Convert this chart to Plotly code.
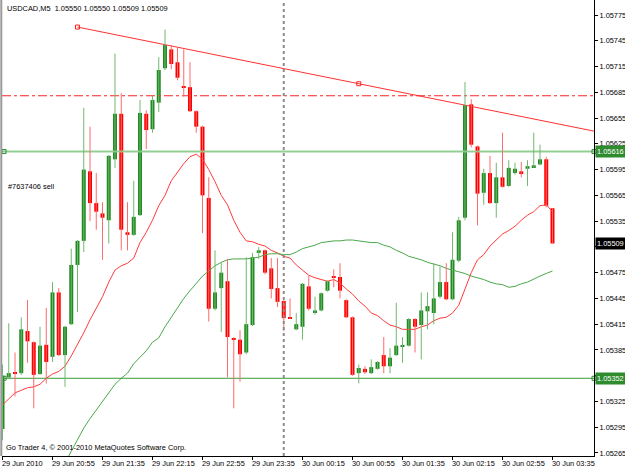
import plotly.graph_objects as go

# ---------------- data (USDCAD, M5) ----------------
opens = [1.05293,1.05353,1.05359,1.05358,1.05407,1.05394,1.05357,1.05391,1.05377,1.05452,
         1.05379,1.05415,1.05484,1.05512,1.05593,1.05556,1.05544,1.05536,1.05607,1.05660,
         1.05522,1.05519,1.05542,1.05660,1.05642,1.05673,1.05713,1.05735,1.05720,1.05692,
         1.05691,1.05663,1.05645,1.05562,1.05433,1.05457,1.05465,1.05398,1.05397,1.05382,
         1.05414,1.05498,1.05501,1.05480,1.05457,1.05442,1.05423,1.05409,1.05412,1.05459,
         1.05428,1.05431,1.05454,1.05471,1.05470,1.05443,1.05423,1.05358,1.05363,1.05358,
         1.05363,1.05379,1.05366,1.05379,1.05389,1.05390,1.05421,1.05414,1.05430,1.05428,
         1.05447,1.05464,1.05444,1.05489,1.05539,1.05671,1.05622,1.05568,1.05591,1.05556,
         1.05586,1.05576,1.05591,1.05593,1.05596,1.05598,1.05601,1.05607,1.05550]
highs = [1.05368,1.05416,1.05382,1.05423,1.05443,1.05395,1.05412,1.05434,1.05464,1.05457,
         1.05413,1.05503,1.05513,1.05667,1.05645,1.05591,1.05557,1.05612,1.05730,1.05684,
         1.05557,1.05582,1.05676,1.05664,1.05681,1.05726,1.05758,1.05740,1.05737,1.05735,
         1.05720,1.05664,1.05646,1.05586,1.05501,1.05487,1.05491,1.05400,1.05408,1.05493,
         1.05498,1.05505,1.05502,1.05492,1.05492,1.05443,1.05445,1.05428,1.05463,1.05471,
         1.05447,1.05452,1.05466,1.05479,1.05486,1.05444,1.05424,1.05368,1.05366,1.05374,
         1.05372,1.05400,1.05387,1.05440,1.05400,1.05422,1.05422,1.05452,1.05452,1.05486,
         1.05482,1.05486,1.05522,1.05540,1.05697,1.05677,1.05623,1.05596,1.05611,1.05603,
         1.05638,1.05606,1.05603,1.05604,1.05606,1.05638,1.05624,1.05610,1.05550]
lows = [1.05280,1.05352,1.05331,1.05356,1.05370,1.05317,1.05356,1.05346,1.05371,1.05378,
        1.05342,1.05414,1.05429,1.05499,1.05535,1.05525,1.05490,1.05509,1.05597,1.05501,
        1.05501,1.05518,1.05541,1.05619,1.05638,1.05662,1.05711,1.05712,1.05699,1.05680,
        1.05662,1.05638,1.05521,1.05418,1.05431,1.05406,1.05353,1.05317,1.05348,1.05380,
        1.05413,1.05491,1.05473,1.05445,1.05435,1.05407,1.05421,1.05408,1.05397,1.05431,
        1.05426,1.05430,1.05453,1.05458,1.05445,1.05422,1.05355,1.05346,1.05357,1.05357,
        1.05362,1.05358,1.05358,1.05378,1.05370,1.05389,1.05382,1.05374,1.05409,1.05415,
        1.05445,1.05443,1.05443,1.05487,1.05536,1.05621,1.05530,1.05554,1.05555,1.05539,
        1.05574,1.05575,1.05589,1.05586,1.05576,1.05597,1.05600,1.05551,1.05509]
closes = [1.05355,1.05358,1.05358,1.05409,1.05395,1.05356,1.05390,1.05371,1.05452,1.05379,
          1.05412,1.05484,1.05512,1.05595,1.05556,1.05546,1.05539,1.05611,1.05660,1.05525,
          1.05519,1.05540,1.05661,1.05641,1.05676,1.05711,1.05740,1.05718,1.05702,1.05691,
          1.05663,1.05645,1.05565,1.05433,1.05452,1.05475,1.05400,1.05397,1.05380,1.05415,
          1.05493,1.05501,1.05475,1.05456,1.05441,1.05422,1.05422,1.05415,1.05462,1.05433,
          1.05431,1.05451,1.05465,1.05469,1.05454,1.05423,1.05356,1.05364,1.05359,1.05365,
          1.05371,1.05366,1.05376,1.05390,1.05390,1.05421,1.05412,1.05431,1.05436,1.05445,
          1.05464,1.05444,1.05490,1.05536,1.05670,1.05624,1.05567,1.05591,1.05556,1.05586,
          1.05575,1.05597,1.05596,1.05591,1.05599,1.05600,1.05607,1.05553,1.05509]

# moving averages (fast red starts at bar 0, slow green at bar 9)
ma_fast = [1.05321,1.05328,1.05335,1.05338,1.05341,1.05342,1.05345,1.05352,1.05357,1.05360,
           1.05366,1.05378,1.05391,1.05405,1.05420,1.05434,1.05447,1.05464,1.05478,1.05483,
           1.05486,1.05492,1.05510,1.05522,1.05536,1.05553,1.05565,1.05582,1.05592,1.05602,
           1.05610,1.05613,1.05607,1.05595,1.05581,1.05565,1.05554,1.05536,1.05522,1.05512,
           1.05511,1.05508,1.05506,1.05501,1.05498,1.05494,1.05492,1.05484,1.05478,1.05472,
           1.05469,1.05467,1.05465,1.05467,1.05463,1.05456,1.05450,1.05442,1.05436,1.05428,
           1.05425,1.05419,1.05414,1.05412,1.05409,1.05409,1.05409,1.05412,1.05414,1.05419,
           1.05422,1.05423,1.05428,1.05437,1.05457,1.05475,1.05490,1.05496,1.05506,1.05513,
           1.05520,1.05524,1.05529,1.05536,1.05542,1.05546,1.05553,1.05554,1.05546]
ma_slow_start = 9
ma_slow = [1.05243,1.05253,1.05267,1.05280,1.05294,1.05305,1.05315,1.05326,1.05335,1.05345,
           1.05352,1.05358,1.05369,1.05376,1.05384,1.05394,1.05399,1.05412,1.05423,1.05434,
           1.05445,1.05454,1.05463,1.05471,1.05477,1.05483,1.05487,1.05490,1.05491,1.05491,
           1.05491,1.05492,1.05493,1.05496,1.05497,1.05497,1.05496,1.05496,1.05499,1.05503,
           1.05505,1.05507,1.05510,1.05511,1.05512,1.05512,1.05513,1.05513,1.05512,1.05511,
           1.05510,1.05510,1.05507,1.05505,1.05501,1.05498,1.05494,1.05492,1.05490,1.05487,
           1.05485,1.05483,1.05480,1.05478,1.05476,1.05474,1.05471,1.05469,1.05467,1.05464,
           1.05462,1.05461,1.05458,1.05459,1.05462,1.05464,1.05468,1.05471,1.05474,1.05477]

tick_bars = [0, 8, 16, 24, 32, 40, 48, 56, 64, 72, 80, 88]
tick_text = ["29 Jun 2010", "29 Jun 20:55", "29 Jun 21:35", "29 Jun 22:15", "29 Jun 22:55",
             "29 Jun 23:35", "30 Jun 00:15", "30 Jun 00:55", "30 Jun 01:35", "30 Jun 02:15",
             "30 Jun 02:55", "30 Jun 03:35"]
price_ticks = [1.05775, 1.05745, 1.05715, 1.05685, 1.05655, 1.05625, 1.05595, 1.05565,
               1.05535, 1.05505, 1.05475, 1.05445, 1.05415, 1.05385, 1.05355, 1.05325,
               1.05295, 1.05265]

upper_level = 1.05616
lower_level = 1.05352
dashdot_level = 1.05681
trend_pts = [(12, 1.05761), (57, 1.05695)]
day_sep_bar = 45
last_price = 1.05509
order_label = "#7637406 sell"
order_price = 1.05575
title_text = "USDCAD,M5  1.05550 1.05550 1.05509 1.05509"
copyright_text = "Go Trader 4, \u00a9 2001-2010 MetaQuotes Software Corp."

# ---------------- styling ----------------
FONT = "Liberation Sans, Arial, sans-serif"
FS = 7.4
GREEN_BODY = "#228b22"
GREEN_WICK = "#6fb86f"
RED_BODY = "#ff0000"
RED_WICK = "#ff6a6a"
X0, X1 = -0.08, 94.64
Y0, Y1 = 1.052615, 1.057925
boxed = [(upper_level, "#2e8b2e"), (last_price, "black"), (lower_level, "#2e8b2e")]

fig = go.Figure()

# moving averages
fig.add_trace(go.Scatter(x=list(range(len(ma_fast))), y=ma_fast, mode="lines",
                         line=dict(color="#ff3b3b", width=1), hoverinfo="skip"))
fig.add_trace(go.Scatter(x=list(range(ma_slow_start, ma_slow_start + len(ma_slow))), y=ma_slow,
                         mode="lines", line=dict(color="#4aa84a", width=1), hoverinfo="skip"))

# horizontal levels and trend line
fig.add_trace(go.Scatter(x=[X0, X1], y=[upper_level, upper_level], mode="lines",
                         line=dict(color="#93cf93", width=2), hoverinfo="skip"))
fig.add_trace(go.Scatter(x=[X0, X1], y=[lower_level, lower_level], mode="lines",
                         line=dict(color="#3a9a3a", width=1), hoverinfo="skip"))
fig.add_trace(go.Scatter(x=[X0, X1], y=[dashdot_level, dashdot_level], mode="lines",
                         line=dict(color="#ff2020", width=1, dash="dashdot"), hoverinfo="skip"))
(ta, pa), (tb, pb) = trend_pts
slope = (pb - pa) / (tb - ta)
fig.add_trace(go.Scatter(x=[ta, X1], y=[pa, pb + slope * (X1 - tb)], mode="lines",
                         line=dict(color="#ff3030", width=1), hoverinfo="skip"))
fig.add_trace(go.Scatter(x=[ta, tb], y=[pa, pb], mode="markers", cliponaxis=False,
                         marker=dict(symbol="square-open", size=4, color="#ff2020",
                                     line=dict(width=1)), hoverinfo="skip"))
fig.add_trace(go.Scatter(x=[0.25, X1, 0.25, X1], y=[upper_level, upper_level, lower_level, lower_level],
                         mode="markers", cliponaxis=False,
                         marker=dict(symbol="square-open", size=4, color="#2e8b2e",
                                     line=dict(width=1)), hoverinfo="skip"))

# candles: wicks then bodies
n = len(opens)
bull = [i for i in range(n) if closes[i] >= opens[i]]
bear = [i for i in range(n) if closes[i] < opens[i]]

def wick_xy(ids):
    xs, ys = [], []
    for i in ids:
        xs += [i, i, None]
        ys += [highs[i], lows[i], None]
    return xs, ys

for ids, col in ((bull, GREEN_WICK), (bear, RED_WICK)):
    wx, wy = wick_xy(ids)
    fig.add_trace(go.Scatter(x=wx, y=wy, mode="lines", line=dict(color=col, width=1),
                             hoverinfo="skip"))

for ids, col in ((bull, GREEN_BODY), (bear, RED_BODY)):
    fig.add_trace(go.Bar(x=ids,
                         base=[min(opens[i], closes[i]) for i in ids],
                         y=[max(abs(closes[i] - opens[i]), 0.000012) for i in ids],
                         width=0.64, marker=dict(color=col, line=dict(width=0)),
                         hoverinfo="skip"))

shapes = [
    dict(type="line", xref="x", yref="paper", x0=day_sep_bar, x1=day_sep_bar, y0=0, y1=1,
         line=dict(color="#8c8c8c", width=2, dash="dot")),
    dict(type="line", xref="paper", yref="paper", x0=-0.0012, x1=-0.0012, y0=0, y1=1.05,
         line=dict(color="#9a9a9a", width=2)),
]

annotations = [
    dict(xref="paper", yref="paper", x=0, y=1, xanchor="left", yanchor="top", xshift=3, yshift=-2,
         text=title_text, showarrow=False, font=dict(family=FONT, size=FS, color="black")),
    dict(xref="paper", yref="paper", x=0, y=0, xanchor="left", yanchor="bottom", xshift=2, yshift=2,
         text=copyright_text, showarrow=False, font=dict(family=FONT, size=FS, color="black")),
    dict(xref="paper", yref="y", x=0, y=order_price, xanchor="left", yanchor="middle", xshift=4,
         text=order_label, showarrow=False, font=dict(family=FONT, size=FS, color="black")),
]
# time labels, left-aligned at their tick like the terminal draws them
for b, t in zip(tick_bars, tick_text):
    annotations.append(dict(xref="x", yref="paper", x=b, y=0, xanchor="left", yanchor="top",
                            xshift=-3, yshift=-1, text=t, showarrow=False,
                            font=dict(family=FONT, size=FS, color="black")))
for lvl, bg in boxed:
    annotations.append(dict(xref="paper", yref="y", x=1, y=lvl, xanchor="left", yanchor="middle",
                            xshift=1, text=f"{lvl:.5f}", showarrow=False, bgcolor=bg, borderpad=1,
                            font=dict(family=FONT, size=FS, color="white")))

# price labels hidden behind the boxed labels are left blank
hidden = [p for p in price_ticks if any(abs(p - lvl) < 0.00008 for lvl, _ in boxed)]
price_text = ["" if p in hidden else f"{p:.5f}" for p in price_ticks]

fig.update_layout(
    width=625, height=469,
    margin=dict(l=2, r=31, t=0, b=13),
    paper_bgcolor="white", plot_bgcolor="white",
    showlegend=False, barmode="overlay",
    shapes=shapes, annotations=annotations,
    font=dict(family=FONT, size=FS, color="black"),
    xaxis=dict(range=[X0, X1], tickvals=tick_bars, ticktext=[""] * len(tick_bars),
               ticks="outside", ticklen=3, tickcolor="black", showline=True, linecolor="black",
               linewidth=1, showgrid=False, zeroline=False, automargin=False, fixedrange=True),
    yaxis=dict(range=[Y0, Y1], side="right", tickvals=price_ticks, ticktext=price_text,
               ticks="outside", ticklen=3, tickcolor="black", showline=True, linecolor="black",
               linewidth=1, showgrid=False, zeroline=False,
               tickfont=dict(family=FONT, size=FS, color="black"),
               automargin=False, fixedrange=True),
)

fig.write_html("out.html")
